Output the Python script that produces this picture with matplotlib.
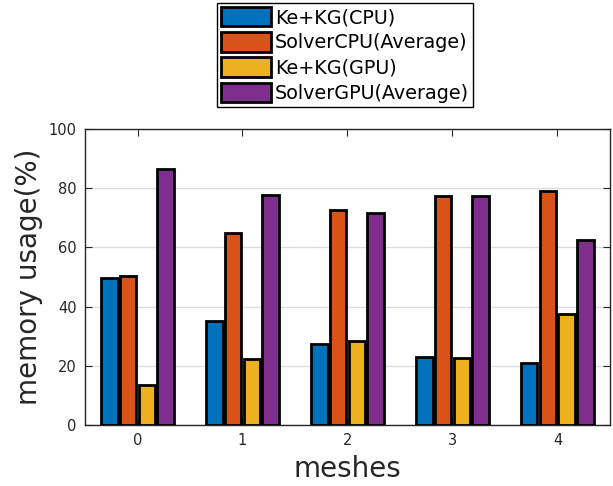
import numpy as np
import matplotlib
matplotlib.use('Agg')
import matplotlib.pyplot as plt

plt.rcParams['font.family'] = ['DejaVu Sans']

# datos
meshes = [0, 1, 2, 3, 4]
keKgCpu = [49.6, 35.2, 27.4, 22.9, 20.9]
solverCpu = [50.4, 64.8, 72.7, 77.2, 79.1]
keKgGpu = [13.5, 22.2, 28.5, 22.5, 37.4]
solverGpu = [86.5, 77.8, 71.6, 77.5, 62.6]
etiquetas = ['Ke+KG(CPU)', 'SolverCPU(Average)', 'Ke+KG(GPU)', 'SolverGPU(Average)']

series = [keKgCpu, solverCpu, keKgGpu, solverGpu]
colores = ['#0072BD', '#D95319', '#EDB120', '#7E2F8E']

fig = plt.figure(figsize=(6.13, 4.86), dpi=100)
ax = fig.add_axes([0.1387, 0.1255, 0.995 - 0.1387, 0.7346 - 0.1255])

x = np.array(meshes)
paso = 0.18
ancho = 0.16
for i, (valores, color, etiqueta) in enumerate(zip(series, colores, etiquetas)):
    ax.bar(x + (i - 1.5) * paso, valores, ancho, color=color, edgecolor='black',
           linewidth=2, label=etiqueta, zorder=3)

ax.set_xlim(-0.5, 4.5)
ax.set_ylim(0, 100)
ax.set_xticks(meshes)
ax.set_yticks([0, 20, 40, 60, 80, 100])
ax.yaxis.grid(True, color='#dcdcdc', linewidth=1, zorder=0)
ax.set_axisbelow(True)
ax.tick_params(direction='in', top=True, right=True, length=5, labelsize=10.5,
               colors='#262626', pad=6)
for s in ax.spines.values():
    s.set_color('#262626')
    s.set_linewidth(1)

ax.set_xlabel('meshes', fontsize=20, color='#262626', labelpad=5)
ax.set_ylabel('memory usage(%)', fontsize=20, color='#262626', labelpad=4)

leg = fig.legend(loc='upper center', bbox_to_anchor=(0.563, 0.994), fontsize=13.8,
                 frameon=True, fancybox=False, edgecolor='black', framealpha=1,
                 handlelength=2.6, handleheight=1.2, handletextpad=0.2,
                 labelspacing=0.26, borderpad=0.2, borderaxespad=0)
leg.get_frame().set_linewidth(1)

fig.savefig('out.png', dpi=100)
